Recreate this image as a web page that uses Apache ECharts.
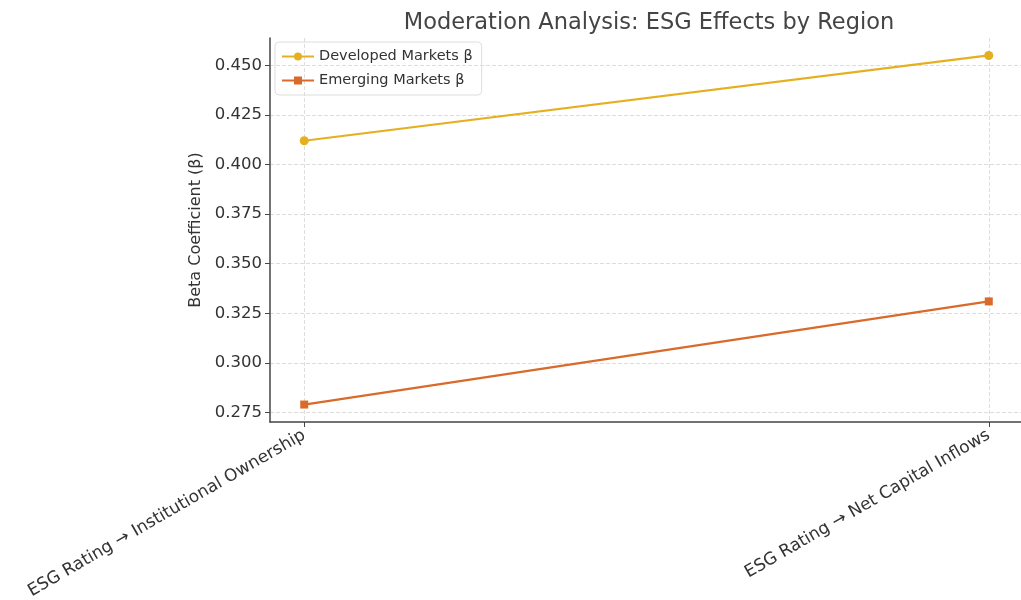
<!DOCTYPE html>
<html><head><meta charset="utf-8">
<script src="https://cdn.jsdelivr.net/npm/echarts@6/dist/echarts.min.js"></script>
<style>html,body{margin:0;padding:0;background:#fff}#c{width:1021px;height:600px}</style>
</head><body><div id="c"></div>
<script>
const categories = ["ESG Rating → Institutional Ownership", "ESG Rating → Net Capital Inflows"];
const developed = [0.412, 0.455];
const emerging = [0.279, 0.331];
const yTicks = [0.275, 0.300, 0.325, 0.350, 0.375, 0.400, 0.425, 0.450];

const chart = echarts.init(document.getElementById('c'));
const font = 'DejaVu Sans';
chart.setOption({
  animation: false,
  title: {text: 'Moderation Analysis: ESG Effects by Region', left: 644, top: 7, textAlign: 'center',
    textStyle: {fontFamily: font, fontSize: 22.5, fontWeight: 'normal', color: '#444'}},
  legend: {left: 275, top: 42, orient: 'vertical', itemGap: 9, itemWidth: 32, itemHeight: 10,
    borderColor: '#ddd', borderWidth: 1, borderRadius: 4, padding: [7, 9, 7, 6],
    textStyle: {fontFamily: font, fontSize: 14.5, color: '#333'},
    data: ['Developed Markets β', 'Emerging Markets β']},
  grid: {left: 270, right: -2, top: 38, bottom: 178, containLabel: false, outerBoundsMode: 'none'},
  xAxis: {type: 'value', min: -0.05, max: 1.05,
    axisLine: {show: true, onZero: false, lineStyle: {color: '#444', width: 1.5}},
    axisTick: {show: true, customValues: [0, 1], length: 5, lineStyle: {color: '#444'}},
    axisLabel: {customValues: [0, 1], rotate: 30, fontFamily: font, fontSize: 17, color: '#333', margin: 12,
      formatter: v => categories[Math.round(v)]},
    splitLine: {show: true, lineStyle: {type: 'dashed', color: '#ddd'}}},
  yAxis: {type: 'value', min: 0.2702, max: 0.4638,
    name: 'Beta Coefficient (β)', nameLocation: 'middle', nameGap: 58,
    nameTextStyle: {fontFamily: font, fontSize: 16, color: '#333'},
    axisLine: {show: true, onZero: false, lineStyle: {color: '#444', width: 1.5}},
    axisTick: {show: true, customValues: yTicks, length: 5, lineStyle: {color: '#444'}},
    axisLabel: {customValues: yTicks, fontFamily: font, fontSize: 16.5, color: '#333', margin: 8,
      formatter: v => v.toFixed(3)},
    splitLine: {show: true, lineStyle: {type: 'dashed', color: '#ddd'}}},
  series: [
    {name: 'Developed Markets β', type: 'line', data: developed.map((v, i) => [i, v]),
      symbol: 'circle', symbolSize: 9, color: '#E5B020', lineStyle: {width: 2.2}},
    {name: 'Emerging Markets β', type: 'line', data: emerging.map((v, i) => [i, v]),
      symbol: 'rect', symbolSize: 8, color: '#D96A2A', lineStyle: {width: 2.2}}
  ]
});
</script></body></html>
